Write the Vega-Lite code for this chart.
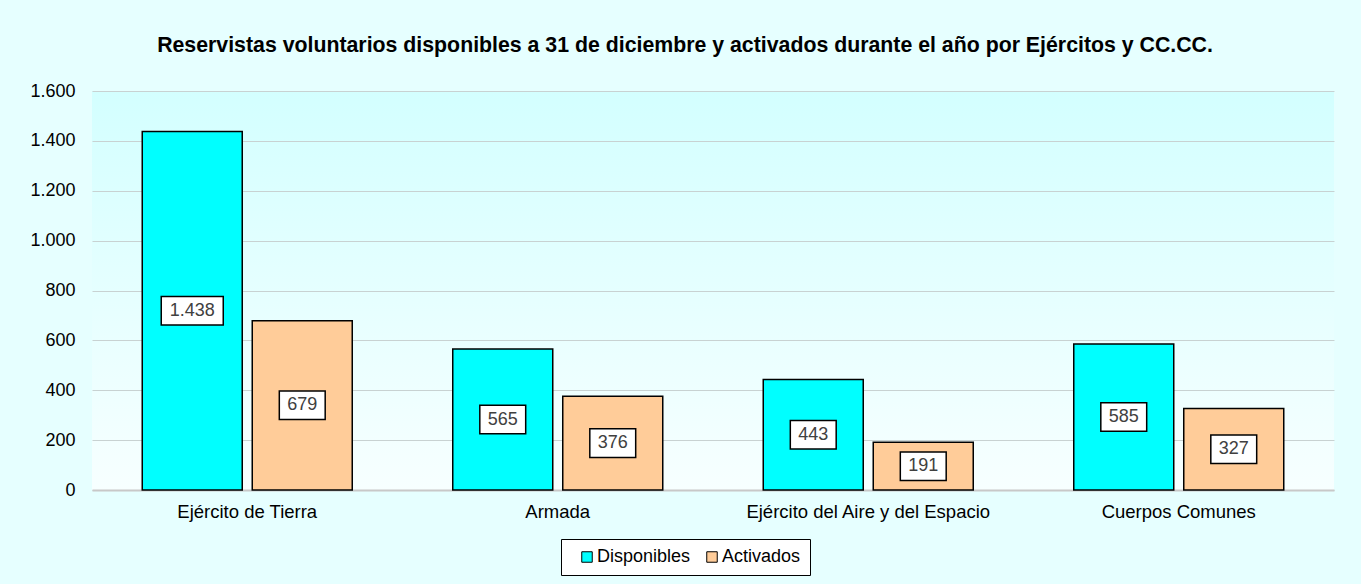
{
  "$schema": "https://vega.github.io/schema/vega-lite/v6.json",
  "width": 1242,
  "height": 399,
  "autosize": {"type": "none"},
  "padding": {"left": 92, "top": 91, "right": 27, "bottom": 94},
  "background": "#E6FFFF",
  "view": {
    "stroke": null,
    "fill": {"gradient": "linear", "x1": 0, "y1": 0, "x2": 0, "y2": 1,
      "stops": [{"offset": 0, "color": "#D3FFFF"}, {"offset": 1, "color": "#F7FFFF"}]}
  },
  "title": {
    "text": "Reservistas voluntarios disponibles a 31 de diciembre y activados durante el año por Ejércitos y CC.CC.",
    "fontSize": 21.3,
    "fontWeight": "bold",
    "color": "black",
    "font": "Liberation Sans",
    "anchor": "middle",
    "frame": "group",
    "dx": -28,
    "offset": 9,
    "baseline": "alphabetic"
  },
  "config": {
    "font": "Liberation Sans",
    "locale": {"number": {"decimal": ",", "thousands": ".", "grouping": [3], "currency": ["", " €"]}}
  },
  "data": {
    "values": [
      {"cuerpo": "Ejército de Tierra", "serie": "Disponibles", "valor": 1438},
      {"cuerpo": "Ejército de Tierra", "serie": "Activados", "valor": 679},
      {"cuerpo": "Armada", "serie": "Disponibles", "valor": 565},
      {"cuerpo": "Armada", "serie": "Activados", "valor": 376},
      {"cuerpo": "Ejército del Aire y del Espacio", "serie": "Disponibles", "valor": 443},
      {"cuerpo": "Ejército del Aire y del Espacio", "serie": "Activados", "valor": 191},
      {"cuerpo": "Cuerpos Comunes", "serie": "Disponibles", "valor": 585},
      {"cuerpo": "Cuerpos Comunes", "serie": "Activados", "valor": 327}
    ]
  },
  "layer": [
    {
      "mark": {"type": "bar", "stroke": "black", "strokeWidth": 1.5},
      "encoding": {
        "x": {"field": "cuerpo", "type": "nominal", "sort": null,
          "scale": {"paddingInner": 0, "paddingOuter": 0},
          "axis": {"title": null, "labelAngle": 0, "ticks": false, "domainColor": "#C8C8C8", "domainWidth": 2,
            "labelFontSize": 18.5, "labelColor": "black", "labelPadding": 12, "labelLimit": 400}},
        "xOffset": {"field": "serie", "type": "nominal", "sort": ["Disponibles", "Activados"],
          "scale": {"paddingInner": 0.0909, "paddingOuter": 0.4568}},
        "y": {"field": "valor", "type": "quantitative",
          "scale": {"domain": [0, 1600], "nice": false},
          "axis": {"title": null, "values": [0, 200, 400, 600, 800, 1000, 1200, 1400, 1600], "format": ",d",
            "domain": false, "ticks": false, "labelFontSize": 18, "labelColor": "black", "labelPadding": 17,
            "gridColor": "#C8D2D2", "gridWidth": 1}},
        "color": {"field": "serie", "type": "nominal", "sort": ["Disponibles", "Activados"],
          "scale": {"domain": ["Disponibles", "Activados"], "range": ["#00FFFF", "#FFCC99"]},
          "legend": {"title": null, "orient": "none", "legendX": 469, "legendY": 448, "direction": "horizontal",
            "columns": 2, "gridAlign": "none", "symbolType": "square", "symbolSize": 110,
            "symbolStrokeColor": "black", "symbolStrokeWidth": 1, "labelFontSize": 18, "labelColor": "black",
            "labelOffset": 1, "columnPadding": 4, "padding": 9, "symbolOffset": 8,
            "strokeColor": "black", "fillColor": "white"}}
      }
    },
    {
      "layer": [
        {
          "mark": {"type": "point", "filled": true, "fill": "white", "stroke": "black", "strokeWidth": 1.5, "opacity": 1, "size": 3844},
          "encoding": {
            "x": {"field": "cuerpo", "type": "nominal", "sort": null},
            "xOffset": {"field": "serie", "type": "nominal", "sort": ["Disponibles", "Activados"]},
            "y": {"field": "valor", "type": "quantitative", "scale": {"domain": [0, 3200], "nice": false}, "axis": null},
            "shape": {"condition": {"test": "datum.valor >= 1000", "value": "M-1,-0.46H1V0.46H-1Z"}, "value": "M-0.74,-0.46H0.74V0.46H-0.74Z"}
          }
        },
        {
          "mark": {"type": "text", "fontSize": 18, "color": "#404040"},
          "encoding": {
            "x": {"field": "cuerpo", "type": "nominal", "sort": null},
            "xOffset": {"field": "serie", "type": "nominal", "sort": ["Disponibles", "Activados"]},
            "y": {"field": "valor", "type": "quantitative", "scale": {"domain": [0, 3200], "nice": false}, "axis": null},
            "text": {"field": "valor", "type": "quantitative", "format": ",d"}
          }
        }
      ]
    }
  ],
  "resolve": {"scale": {"y": "independent"}}
}
